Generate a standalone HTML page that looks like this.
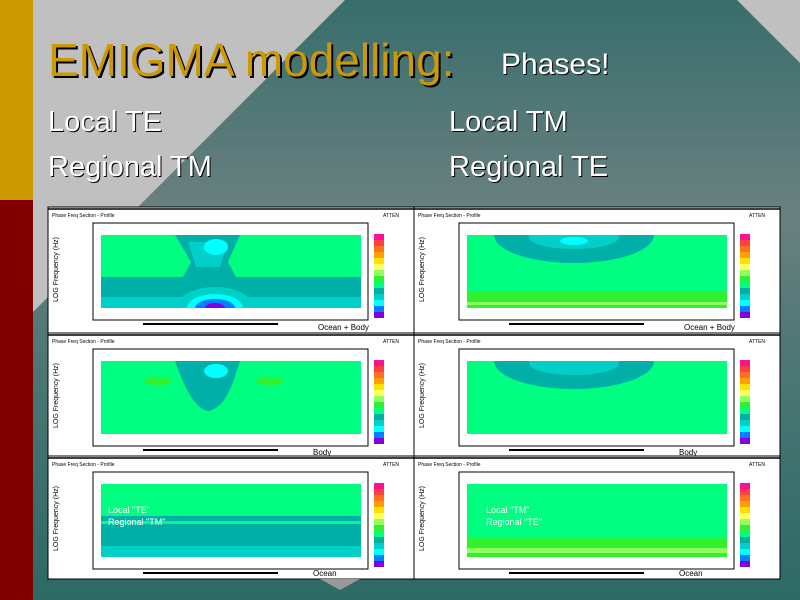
<!DOCTYPE html>
<html><head><meta charset="utf-8"><style>
body{margin:0;width:800px;height:600px;overflow:hidden;font-family:"Liberation Sans","DejaVu Sans",sans-serif}
.t{position:absolute;white-space:nowrap}
</style></head><body>
<svg width="800" height="600" style="position:absolute;left:0;top:0">
<defs>
<linearGradient id="tg" x1="0" y1="0" x2="0" y2="1">
<stop offset="0" stop-color="#376e6c"/><stop offset="0.35" stop-color="#6a8080"/><stop offset="0.6" stop-color="#4d7775"/><stop offset="1" stop-color="#2d6965"/></linearGradient>
<clipPath id="pc"><rect x="53" y="28" width="260" height="73"/></clipPath>
<g id="cb">
<rect x="0" y="0" width="10" height="6" fill="#ff1090"/><rect x="0" y="6" width="10" height="6" fill="#ff4040"/>
<rect x="0" y="12" width="10" height="6" fill="#ff7020"/><rect x="0" y="18" width="10" height="6" fill="#ffa000"/>
<rect x="0" y="24" width="10" height="6" fill="#ffe000"/><rect x="0" y="30" width="10" height="6" fill="#ffff60"/>
<rect x="0" y="36" width="10" height="6" fill="#90ff60"/><rect x="0" y="42" width="10" height="6" fill="#30f030"/>
<rect x="0" y="48" width="10" height="6" fill="#00ff80"/><rect x="0" y="54" width="10" height="6" fill="#00b0a0"/>
<rect x="0" y="60" width="10" height="6" fill="#00d0c8"/><rect x="0" y="66" width="10" height="6" fill="#00ffff"/>
<rect x="0" y="72" width="10" height="6" fill="#0080ff"/><rect x="0" y="78" width="10" height="6" fill="#8000e0"/>
</g>
<g id="fr">
<rect x="45" y="16" width="275" height="97" fill="#fff" stroke="#000" stroke-width="1"/>
<line x1="0" y1="2" x2="366" y2="2" stroke="#000" stroke-width="1.5"/>
<text x="4" y="10" font-size="5" fill="#000">Phase Freq Section - Profile</text>
<text x="335" y="10" font-size="5" fill="#000">ATTEN</text>
<text x="10" y="95" font-size="7" fill="#000" transform="rotate(-90 10 95)">LOG Frequency (Hz)</text>
<line x1="95" y1="117" x2="230" y2="117" stroke="#000" stroke-width="2"/>
<use href="#cb" x="326" y="27"/>
</g>
</defs>
<rect width="800" height="600" fill="#c0c0c0"/>
<polygon points="345,0 737,0 800,63 800,600 0,600 0,345" fill="url(#tg)"/>
<rect x="0" y="0" width="33" height="200" fill="#cc9900"/>
<rect x="0" y="200" width="33" height="400" fill="#800000"/>
<rect x="48" y="207" width="732" height="372" fill="#fff" stroke="#000"/>
<line x1="414" y1="207" x2="414" y2="579" stroke="#000"/>
<line x1="48" y1="333" x2="780" y2="333" stroke="#000"/>
<line x1="48" y1="456" x2="780" y2="456" stroke="#000"/>
<polygon points="320,579 360,579 340,590" fill="#999"/>
<!-- panel 1 -->
<g transform="translate(48,207)"><use href="#fr"/>
<g clip-path="url(#pc)">
<rect x="53" y="28" width="260" height="73" fill="#00ff80"/>
<rect x="53" y="70" width="260" height="20" fill="#00b0a8"/>
<rect x="53" y="90" width="260" height="11" fill="#00d0c8"/>
<path d="M127 28 L192 28 L180 55 L188 70 L135 70 L143 55 Z" fill="#00b0a8"/>
<path d="M140 35 L180 35 L172 60 L148 60 Z" fill="#00d0c8"/>
<ellipse cx="168" cy="40" rx="12" ry="8" fill="#00ffff"/>
<ellipse cx="167" cy="100" rx="38" ry="20" fill="#00d0c8"/>
<ellipse cx="167" cy="101" rx="28" ry="14" fill="#00ffff"/>
<ellipse cx="167" cy="101" rx="20" ry="9" fill="#0080ff"/>
<ellipse cx="167" cy="101" rx="10" ry="5" fill="#8000e0"/>
</g>
<text x="270" y="123" font-size="8">Ocean + Body</text>
</g>
<!-- panel 2 -->
<g transform="translate(414,207)"><use href="#fr"/>
<g clip-path="url(#pc)">
<rect x="53" y="28" width="260" height="73" fill="#00ff80"/>
<ellipse cx="160" cy="28" rx="80" ry="28" fill="#00b0a8"/>
<ellipse cx="160" cy="30" rx="45" ry="12" fill="#00d0c8"/>
<ellipse cx="160" cy="34" rx="14" ry="4" fill="#00ffff"/>
<rect x="53" y="84" width="260" height="17" fill="#30f030"/>
<rect x="53" y="95" width="260" height="3" fill="#90ff60"/>
</g>
<text x="270" y="123" font-size="8">Ocean + Body</text>
</g>
<!-- panel 3 -->
<g transform="translate(48,333)"><use href="#fr"/>
<g clip-path="url(#pc)">
<rect x="53" y="28" width="260" height="73" fill="#00ff80"/>
<path d="M127 28 L192 28 C185 50 178 75 160 78 C145 75 135 50 127 28 Z" fill="#00b0a8"/>
<ellipse cx="168" cy="38" rx="12" ry="7" fill="#00ffff"/>
<ellipse cx="110" cy="48" rx="14" ry="4" fill="#30f030"/>
<ellipse cx="222" cy="48" rx="14" ry="4" fill="#30f030"/>
</g>
<text x="265" y="122" font-size="8">Body</text>
</g>
<!-- panel 4 -->
<g transform="translate(414,333)"><use href="#fr"/>
<g clip-path="url(#pc)">
<rect x="53" y="28" width="260" height="73" fill="#00ff80"/>
<ellipse cx="160" cy="28" rx="80" ry="28" fill="#00b0a8"/>
<ellipse cx="160" cy="30" rx="45" ry="12" fill="#00d0c8"/>
</g>
<text x="265" y="122" font-size="8">Body</text>
</g>
<!-- panel 5 -->
<g transform="translate(48,456)"><use href="#fr"/>
<g clip-path="url(#pc)">
<rect x="53" y="28" width="260" height="73" fill="#00ff80"/>
<rect x="53" y="60" width="260" height="5" fill="#00b0a8"/>
<rect x="53" y="68" width="260" height="22" fill="#00b0a8"/>
<rect x="53" y="90" width="260" height="11" fill="#00d0c8"/>
</g>
<text x="60" y="57" font-size="9" fill="#fff">Local "TE"</text>
<text x="60" y="69" font-size="9" fill="#fff">Regional "TM"</text>
<text x="265" y="120" font-size="8">Ocean</text>
</g>
<!-- panel 6 -->
<g transform="translate(414,456)"><use href="#fr"/>
<g clip-path="url(#pc)">
<rect x="53" y="28" width="260" height="73" fill="#00ff80"/>
<rect x="53" y="82" width="260" height="19" fill="#30f030"/>
<rect x="53" y="92" width="260" height="5" fill="#90ff60"/>
</g>
<text x="72" y="57" font-size="9" fill="#fff">Local "TM"</text>
<text x="72" y="69" font-size="9" fill="#fff">Regional "TE"</text>
<text x="265" y="120" font-size="8">Ocean</text>
</g>
</svg>
<div class="t" style="left:48px;top:33px;font-size:46px;color:#cc9900;text-shadow:2px 2px 0 #000">EMIGMA modelling:</div>
<div class="t" style="left:501px;top:48px;font-size:30px;color:#fff;text-shadow:1px 1px 0 #000">Phases!</div>
<div class="t" style="left:48px;top:106px;font-size:29px;color:#fff;text-shadow:1px 1px 0 #000">Local TE</div>
<div class="t" style="left:48px;top:151px;font-size:29px;color:#fff;text-shadow:1px 1px 0 #000">Regional TM</div>
<div class="t" style="left:449px;top:106px;font-size:29px;color:#fff;text-shadow:1px 1px 0 #000">Local TM</div>
<div class="t" style="left:449px;top:151px;font-size:29px;color:#fff;text-shadow:1px 1px 0 #000">Regional TE</div>
</body></html>
